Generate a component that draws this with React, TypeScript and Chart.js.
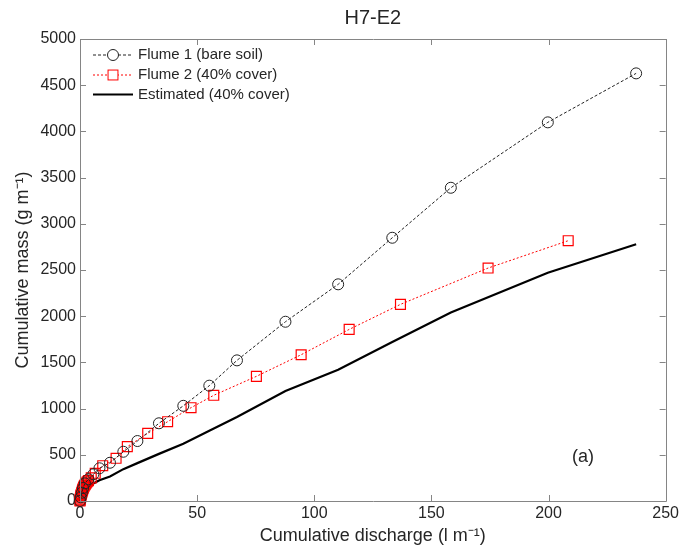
import React, { useEffect, useRef } from "react";
import { Chart, registerables } from "chart.js";

Chart.register(...registerables);

// ---- Data ----
const flume1X = [0, 0.3, 0.8, 1.3, 2.1, 3.6, 5.7, 8.3, 12.8, 18.5, 24.5, 33.7, 44.1, 55.2, 67.0, 87.7, 110.2, 133.3, 158.3, 199.7, 237.4];
const flume1Y = [0, 40, 90, 140, 191, 235, 289, 354, 414, 533, 649, 841, 1030, 1248, 1522, 1940, 2345, 2849, 3390, 4098, 4628];

const flume2X = [0, 0.05, 0.1, 0.2, 0.3, 0.4, 0.5, 0.65, 0.8, 1.0, 1.1, 1.3, 1.5, 1.7, 2.0, 2.3, 2.7, 3.1, 3.6, 4.8, 6.5, 9.7, 15.4, 20.2, 28.9, 37.4, 47.4, 57.1, 75.3, 94.4, 114.9, 136.8, 174.2, 208.4];
const flume2Y = [0, 10, 20, 32, 45, 58, 70, 82, 95, 108, 120, 132, 145, 158, 170, 182, 195, 208, 220, 250, 300, 382, 462, 588, 732, 858, 1010, 1144, 1349, 1583, 1857, 2128, 2521, 2817];

const estX = [0, 0.3, 0.8, 1.3, 2.1, 3.6, 5.7, 8.3, 12.8, 18.5, 24.5, 33.7, 44.1, 55.2, 67.0, 87.7, 110.2, 133.3, 158.3, 199.7, 237.4];
const estY = [0, 30, 65, 90, 115, 150, 190, 225, 265, 345, 410, 510, 620, 760, 910, 1190, 1420, 1720, 2040, 2470, 2778];

const seriesNames = ["Flume 1 (bare soil)", "Flume 2 (40% cover)", "Estimated (40% cover)"];
const chartTitle = "H7-E2";
const xTitle = "Cumulative discharge (l m\u207B\u00B9)";
const yTitle = "Cumulative mass (g m\u207B\u00B9)";
const panelLabel = "(a)";

const FONT = "Arial, 'Liberation Sans', sans-serif";
const TEXT = "#262626";
const FRAME = "#858585";

const toPoints = (xs: number[], ys: number[]) => xs.map((x, i) => ({ x, y: ys[i] }));

const framePlugin = {
  id: "frameAndDecor",
  afterDraw(chart: any) {
    const { ctx, chartArea, scales } = chart;
    const { left, right, top, bottom } = chartArea;
    const xs = scales.x;
    const ys = scales.y;
    ctx.save();
    // frame
    ctx.strokeStyle = FRAME;
    ctx.lineWidth = 1;
    ctx.beginPath();
    ctx.rect(Math.round(left) + 0.5, Math.round(top) + 0.5, Math.round(right - left), Math.round(bottom - top));
    ctx.stroke();
    // inward ticks
    const tl = 6;
    ctx.beginPath();
    xs.ticks.forEach((t: any) => {
      const px = Math.round(xs.getPixelForValue(t.value)) + 0.5;
      ctx.moveTo(px, bottom);
      ctx.lineTo(px, bottom - tl);
      ctx.moveTo(px, top);
      ctx.lineTo(px, top + tl);
    });
    ys.ticks.forEach((t: any) => {
      const py = Math.round(ys.getPixelForValue(t.value)) + 0.5;
      ctx.moveTo(left, py);
      ctx.lineTo(left + tl, py);
      ctx.moveTo(right, py);
      ctx.lineTo(right - tl, py);
    });
    ctx.stroke();

    // title
    ctx.fillStyle = TEXT;
    ctx.font = `20px ${FONT}`;
    ctx.textAlign = "center";
    ctx.textBaseline = "middle";
    ctx.fillText(chartTitle, (left + right) / 2, 18);

    // panel label
    ctx.font = `18px ${FONT}`;
    ctx.fillText(panelLabel, 583, 457);

    // legend
    const lx0 = left + 13;
    const lx1 = left + 53;
    const mx = (lx0 + lx1) / 2;
    const rows = [55, 75, 94.5];
    const dsets = chart.data.datasets;
    ctx.font = `15px ${FONT}`;
    ctx.textAlign = "left";
    rows.forEach((ry: number, i: number) => {
      const d = dsets[i];
      ctx.save();
      ctx.strokeStyle = d.borderColor;
      ctx.lineWidth = d.borderWidth;
      ctx.setLineDash(d.borderDash || []);
      ctx.beginPath();
      ctx.moveTo(lx0, ry);
      ctx.lineTo(lx1, ry);
      ctx.stroke();
      ctx.setLineDash([]);
      ctx.lineWidth = 1;
      ctx.strokeStyle = d.pointBorderColor;
      if (d.pointStyle === "circle" && d.pointRadius > 0) {
        ctx.beginPath();
        ctx.arc(mx, ry, d.pointRadius, 0, Math.PI * 2);
        ctx.fillStyle = "#fff";
        ctx.fill();
        ctx.stroke();
      } else if (d.pointStyle === "rect" && d.pointRadius > 0) {
        const s = d.pointRadius * Math.SQRT1_2;
        ctx.fillStyle = "#fff";
        ctx.fillRect(mx - s, ry - s, 2 * s, 2 * s);
        ctx.strokeRect(mx - s, ry - s, 2 * s, 2 * s);
      }
      ctx.restore();
      ctx.fillStyle = TEXT;
      ctx.fillText(seriesNames[i], lx1 + 5, ry);
    });
    ctx.restore();
  },
};

export default function App() {
  const ref = useRef<HTMLCanvasElement | null>(null);

  useEffect(() => {
    document.body.style.margin = "0";
    const canvas = ref.current;
    if (!canvas) return;
    const chart = new Chart(canvas, {
      type: "scatter",
      data: {
        datasets: [
          {
            label: seriesNames[0],
            data: toPoints(flume1X, flume1Y),
            showLine: true,
            borderColor: "#222222",
            borderWidth: 1,
            borderDash: [3, 2],
            pointStyle: "circle",
            pointRadius: 5.5,
            pointBorderColor: "#222222",
            pointBackgroundColor: "rgba(0,0,0,0)",
            pointBorderWidth: 1,
            clip: false,
          } as any,
          {
            label: seriesNames[1],
            data: toPoints(flume2X, flume2Y),
            showLine: true,
            borderColor: "#ff0000",
            borderWidth: 1,
            borderDash: [2, 2],
            pointStyle: "rect",
            pointRadius: 7,
            pointBorderColor: "#ff0000",
            pointBackgroundColor: "rgba(0,0,0,0)",
            pointBorderWidth: 1.2,
            clip: false,
          } as any,
          {
            label: seriesNames[2],
            data: toPoints(estX, estY),
            showLine: true,
            borderColor: "#000000",
            borderWidth: 2.2,
            pointRadius: 0,
            pointStyle: "line",
            clip: false,
          } as any,
        ],
      },
      options: {
        responsive: false,
        animation: false,
        layout: { padding: { top: 39, right: 16, left: 0, bottom: 0 } },
        plugins: {
          legend: { display: false },
          title: { display: false },
          tooltip: { enabled: false },
        },
        scales: {
          x: {
            type: "linear",
            min: 0,
            max: 250,
            grid: { display: false, drawTicks: false },
            border: { display: false },
            ticks: { stepSize: 50, color: TEXT, font: { family: FONT, size: 16 }, padding: 3, maxRotation: 0, callback: (v: any) => String(v) },
            title: { display: true, text: xTitle, color: TEXT, font: { family: FONT, size: 18 }, padding: { top: 0, bottom: 8 } },
            afterFit: (s: any) => { s.height = 54; },
          },
          y: {
            type: "linear",
            min: 0,
            max: 5000,
            grid: { display: false, drawTicks: false },
            border: { display: false },
            ticks: { stepSize: 500, color: TEXT, font: { family: FONT, size: 16 }, padding: 4, callback: (v: any) => String(v) },
            title: { display: true, text: yTitle, color: TEXT, font: { family: FONT, size: 18 }, padding: { top: 12, bottom: 0 } },
            afterFit: (s: any) => { s.width = 80; },
          },
        },
      },
      plugins: [framePlugin],
    });
    return () => chart.destroy();
  }, []);

  return (
    <div style={{ position: "absolute", left: 0, top: 0, width: 682, height: 555, background: "#fff" }}>
      <canvas ref={ref} width={682} height={555} />
    </div>
  );
}
